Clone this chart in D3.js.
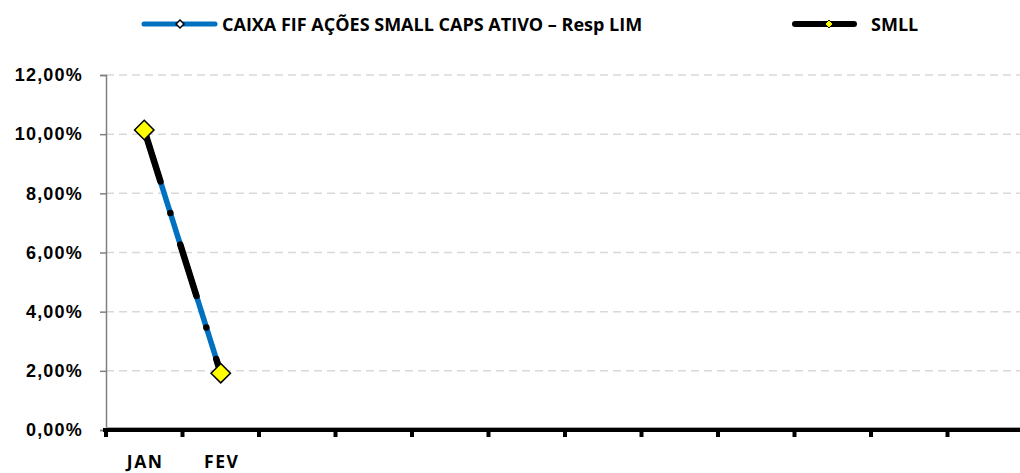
<!DOCTYPE html>
<html>
<head>
<meta charset="utf-8">
<script src="https://cdn.jsdelivr.net/npm/d3@7"></script>
<style>
  body { margin: 0; background: #fff; }
  svg { display: block; font-family: "Open Sans", Lato, sans-serif; }
</style>
</head>
<body>
<svg id="chart" width="1020" height="473"></svg>
<script>
// months of the year, only the first two have data
var months = ["JAN", "FEV", "MAR", "ABR", "MAI", "JUN", "JUL", "AGO", "SET", "OUT", "NOV", "DEZ"];
var monthLabels = ["JAN", "FEV", "", "", "", "", "", "", "", "", "", ""];
var fundo = [10.14, 1.92];   // CAIXA FIF AÇÕES SMALL CAPS ATIVO – Resp LIM
var smll = [10.14, 1.92];    // SMLL
var yTicks = [0, 2, 4, 6, 8, 10, 12];

var svg = d3.select("#chart");

var x = d3.scaleBand().domain(months).range([106, 1024]);
var y = d3.scaleLinear().domain([0, 12]).range([430, 75]);

var fmt = function(v){ return v.toFixed(2).replace(".", ",") + "%"; };

// grid lines
svg.append("g")
    .selectAll("line")
    .data(yTicks.filter(d => d > 0))
    .enter()
    .append("line")
    .attr("x1", 106)
    .attr("x2", 1020)
    .attr("y1", d => y(d))
    .attr("y2", d => y(d))
    .style("stroke", "#d9d9d9")
    .style("stroke-width", 1.5)
    .style("stroke-dasharray", "8,5");

// y axis
var yAxis = svg.append("g")
    .attr("transform", "translate(106,0)")
    .call(d3.axisLeft(y).tickValues(yTicks).tickFormat(fmt).tickSize(6).tickPadding(17));
yAxis.select(".domain").style("stroke", "#808080").style("stroke-width", 1.5);
yAxis.selectAll(".tick line").style("stroke", "#808080").style("stroke-width", 1.5);
yAxis.selectAll("text")
    .style("font-size", "18px")
    .style("font-weight", "bold")
    .style("letter-spacing", "1.2px")
    .style("fill", "#000");

// x axis
var xAxis = svg.append("g")
    .attr("transform", "translate(0,430)");
xAxis.append("line")
    .attr("x1", 106).attr("x2", 1020)
    .attr("y1", -2.5).attr("y2", -2.5)
    .style("stroke", "#a6a6a6").style("stroke-width", 1);
xAxis.append("line")
    .attr("x1", 103).attr("x2", 1020)
    .attr("y1", 0).attr("y2", 0)
    .style("stroke", "#000").style("stroke-width", 4);
xAxis.selectAll(".tk")
    .data(months)
    .enter()
    .append("line")
    .attr("class", "tk")
    .attr("x1", d => x(d)).attr("x2", d => x(d))
    .attr("y1", 0).attr("y2", 7)
    .style("stroke", "#000").style("stroke-width", 4);
xAxis.selectAll(".lbl")
    .data(months)
    .enter()
    .append("text")
    .attr("class", "lbl")
    .attr("x", d => x(d) + x.bandwidth() / 2 + 1)
    .attr("y", 38)
    .attr("text-anchor", "middle")
    .style("font-size", "17.5px")
    .style("font-weight", "bold")
    .style("letter-spacing", "1.6px")
    .text((d, i) => monthLabels[i]);

var line = d3.line()
    .x((d, i) => x(months[i]) + x.bandwidth() / 2)
    .y(d => y(d));

// fund series, blue
svg.append("path")
    .datum(fundo)
    .attr("d", line)
    .attr("fill", "none")
    .style("stroke", "#0070c0")
    .style("stroke-width", 5.5);

// SMLL series, black long dash dot
svg.append("path")
    .datum(smll)
    .attr("d", line)
    .attr("fill", "none")
    .style("stroke", "#000")
    .style("stroke-width", 6.5)
    .style("stroke-linecap", "round")
    .style("stroke-dasharray", "54,33,0,33");

var diamond = d3.symbol().type(d3.symbolDiamond2);

svg.append("g")
    .selectAll("path")
    .data(smll)
    .enter()
    .append("path")
    .attr("transform", (d, i) => "translate(" + (x(months[i]) + x.bandwidth() / 2) + "," + y(d) + ")")
    .attr("d", diamond.size(240)())
    .style("fill", "#ffff00")
    .style("stroke", "#000")
    .style("stroke-width", 1.5);

// legend
var leg = svg.append("g");
leg.append("line")
    .attr("x1", 144).attr("x2", 215).attr("y1", 24).attr("y2", 24)
    .style("stroke", "#0070c0").style("stroke-width", 5).style("stroke-linecap", "round");
leg.append("path")
    .attr("transform", "translate(180,24)")
    .attr("d", d3.symbol().type(d3.symbolDiamond2).size(40)())
    .style("fill", "#fff").style("stroke", "#000").style("stroke-width", 1.5);
leg.append("text")
    .attr("x", 222).attr("y", 31)
    .style("font-size", "18px").style("font-weight", "bold")
    .text("CAIXA FIF AÇÕES SMALL CAPS ATIVO – Resp LIM");

leg.append("line")
    .attr("x1", 795).attr("x2", 854).attr("y1", 24).attr("y2", 24)
    .style("stroke", "#000").style("stroke-width", 6).style("stroke-linecap", "round");
leg.append("path")
    .attr("transform", "translate(829,24)")
    .attr("d", d3.symbol().type(d3.symbolDiamond2).size(40)())
    .style("fill", "#ffff00").style("stroke", "#000").style("stroke-width", 1);
leg.append("text")
    .attr("x", 871).attr("y", 31)
    .style("font-size", "18px").style("font-weight", "bold")
    .text("SMLL");
</script>
</body>
</html>
